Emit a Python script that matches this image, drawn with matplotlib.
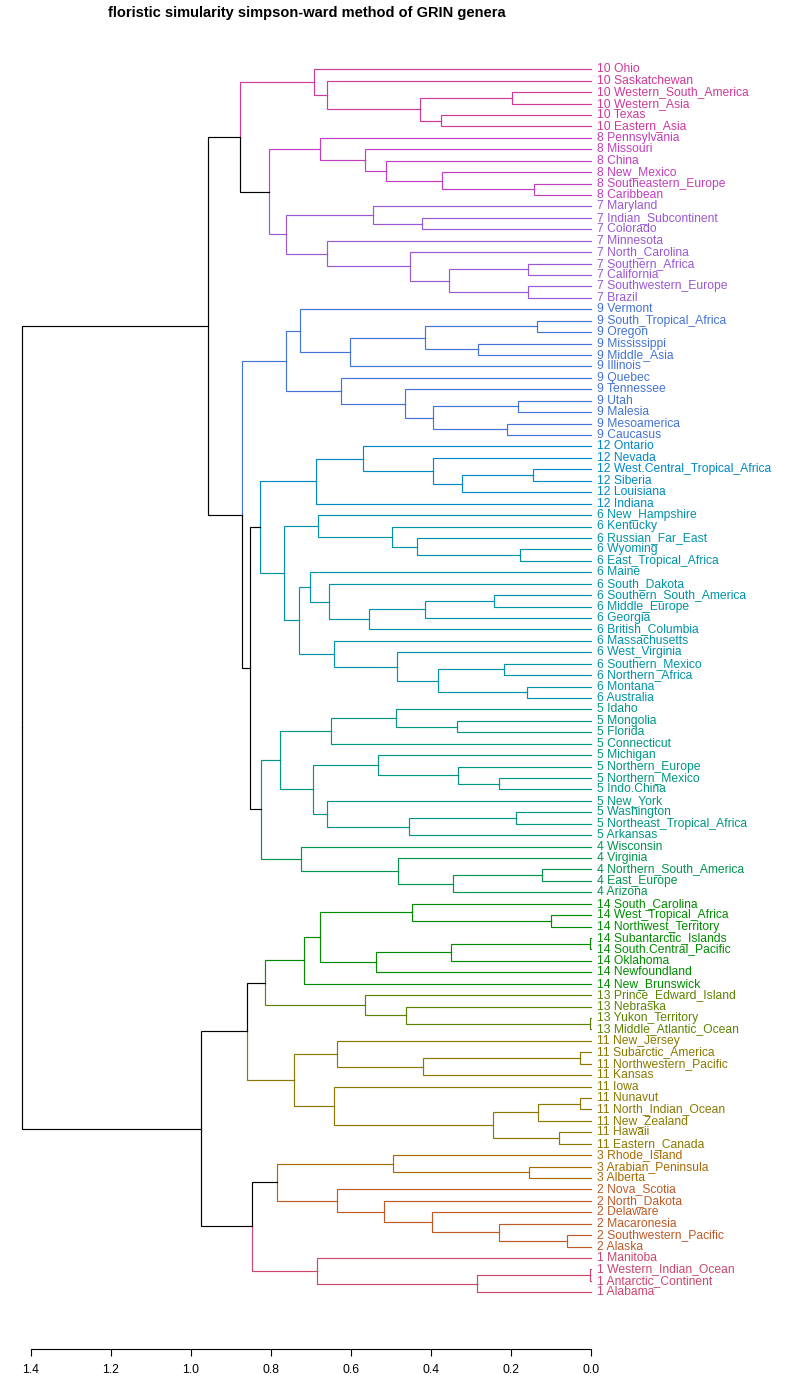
import math
import matplotlib
matplotlib.use('Agg')
import matplotlib.pyplot as plt

plt.rcParams['font.family'] = ['Liberation Sans', 'DejaVu Sans']

# each cluster is a small tree: (merge height, upper branch, lower branch), leaves are names
c10 = (0.692, "Ohio", (0.661, "Saskatchewan", (0.427, (0.197, "Western_South_America", "Western_Asia"),
                                               (0.374, "Texas", "Eastern_Asia"))))
c8 = (0.677, "Pennsylvania", (0.564, "Missouri", (0.512, "China", (0.372, "New_Mexico",
                                                                     (0.142, "Southeastern_Europe", "Caribbean")))))
c7 = (0.762, (0.544, "Maryland", (0.422, "Indian_Subcontinent", "Colorado")),
      (0.659, "Minnesota", (0.452, "North_Carolina", (0.354, (0.157, "Southern_Africa", "California"),
                                                       (0.157, "Southwestern_Europe", "Brazil")))))
c9 = (0.762, (0.727, "Vermont", (0.602, (0.414, (0.134, "South_Tropical_Africa", "Oregon"),
                                          (0.282, "Mississippi", "Middle_Asia")), "Illinois")),
      (0.624, "Quebec", (0.464, "Tennessee", (0.394, (0.182, "Utah", "Malesia"),
                                              (0.209, "Mesoamerica", "Caucasus")))))
c12 = (0.687, (0.569, "Ontario", (0.394, "Nevada", (0.322, (0.144, "West.Central_Tropical_Africa", "Siberia"),
                                                    "Louisiana"))), "Indiana")
c6 = (0.767, (0.682, "New_Hampshire", (0.497, "Kentucky", (0.434, "Russian_Far_East",
                                                           (0.177, "Wyoming", "East_Tropical_Africa")))),
      (0.729, (0.702, "Maine", (0.654, "South_Dakota",
                                (0.554, (0.414, (0.242, "Southern_South_America", "Middle_Europe"), "Georgia"),
                                 "British_Columbia"))),
       (0.642, "Massachusetts", (0.486, "West_Virginia", (0.382, (0.217, "Southern_Mexico", "Northern_Africa"),
                                                          (0.159, "Montana", "Australia"))))))
c5 = (0.777, (0.649, (0.487, "Idaho", (0.334, "Mongolia", "Florida")), "Connecticut"),
      (0.694, (0.532, "Michigan", (0.332, "Northern_Europe", (0.229, "Northern_Mexico", "Indo.China"))),
       (0.659, "New_York", (0.454, (0.187, "Washington", "Northeast_Tropical_Africa"), "Arkansas"))))
c4 = (0.724, "Wisconsin", (0.482, "Virginia", (0.344, (0.122, "Northern_South_America", "East_Europe"), "Arizona")))
c14 = (0.717, (0.677, (0.447, "South_Carolina", (0.099, "West_Tropical_Africa", "Northwest_Territory")),
               (0.537, (0.349, (0.003, "Subantarctic_Islands", "South.Central_Pacific"), "Oklahoma"),
                "Newfoundland")), "New_Brunswick")
c13 = (0.564, "Prince_Edward_Island", (0.462, "Nebraska", (0.003, "Yukon_Territory", "Middle_Atlantic_Ocean")))
c11 = (0.742, (0.634, "New_Jersey", (0.419, (0.0275, "Subarctic_America", "Northwestern_Pacific"), "Kansas")),
       (0.642, "Iowa", (0.244, (0.132, (0.0275, "Nunavut", "North_Indian_Ocean"), "New_Zealand"),
                        (0.079, "Hawaii", "Eastern_Canada"))))
c3 = (0.494, "Rhode_Island", (0.154, "Arabian_Peninsula", "Alberta"))
c2 = (0.634, "Nova_Scotia", (0.517, "North_Dakota", (0.397, "Delaware",
                                                      (0.229, "Macaronesia", (0.059, "Southwestern_Pacific", "Alaska")))))
c1 = (0.684, "Manitoba", (0.284, (0.003, "Western_Indian_Ocean", "Antarctic_Continent"), "Alabama"))

clusters = {10: c10, 8: c8, 7: c7, 9: c9, 12: c12, 6: c6, 5: c5, 4: c4,
            14: c14, 13: c13, 11: c11, 3: c3, 2: c2, 1: c1}

# joins above the cut (integers = cluster numbers)
upper = (0.957, (0.877, 10, (0.804, 8, 7)),
         (0.872, 9, (0.852, (0.827, 12, 6), (0.824, 5, 4))))
lower = (0.976, (0.861, (0.816, 14, 13), 11), (0.847, (0.784, 3, 2), 1))
root_height = 1.4225
tree = (root_height, upper, lower)

# colour order of the groups, bottom to top (rainbow_hcl, c=90, l=50)
group_order = [1, 2, 3, 11, 13, 14, 4, 5, 6, 12, 9, 7, 8, 10]


def hcl_hex(h, c, l):
    xn, yn, zn = 95.047, 100.0, 108.883
    u = c * math.cos(math.radians(h))
    v = c * math.sin(math.radians(h))
    y = yn * ((l + 16) / 116) ** 3
    den = xn + 15 * yn + 3 * zn
    up = u / (13 * l) + 4 * xn / den
    vp = v / (13 * l) + 9 * yn / den
    x = 9 * y * up / (4 * vp)
    z = -x / 3 - 5 * y + 3 * y / vp
    x, y, z = x / 100, y / 100, z / 100
    rgb = [3.240479 * x - 1.537150 * y - 0.498535 * z,
           -0.969256 * x + 1.875992 * y + 0.041556 * z,
           0.055648 * x - 0.204043 * y + 1.057311 * z]
    out = []
    for ch in rgb:
        ch = 12.92 * ch if ch <= 0.0031308 else 1.055 * ch ** (1 / 2.4) - 0.055
        out.append(min(max(ch, 0), 1))
    return '#%02x%02x%02x' % tuple(int(round(ch * 255)) for ch in out)


n = len(group_order)
colors = {g: hcl_hex(360.0 * (n - 1) / n * i / (n - 1), 90, 50) for i, g in enumerate(group_order)}

fig = plt.figure(figsize=(8, 13.76), dpi=100)
# axes from pixel x 0..640, y 40..1330 ; height 0 at x=591, 400 px per unit
ax = fig.add_axes([0, (1376 - 1330) / 1376, 640 / 800, 1290 / 1376])
ax.set_xlim(591 / 400, (591 - 640) / 400)
ax.set_ylim((1330 - 69.3) / 11.43, (40 - 69.3) / 11.43)

lw = 0.85
counter = [0]


def draw(node, col, cid):
    if isinstance(node, int):
        return draw(clusters[node], colors[node], node)
    if isinstance(node, str):
        y = counter[0]
        counter[0] += 1
        ax.text(-0.015, y, "%d %s" % (cid, node), color=col, fontsize=8.75,
                va='center', ha='left', clip_on=False)
        return y, 0.0, col
    h, a, b = node
    ya, ha, ca = draw(a, col, cid)
    yb, hb, cb = draw(b, col, cid)
    ym = (ya + yb) / 2
    ax.plot([ha, h, h], [ya, ya, ym], color=ca, lw=lw, solid_joinstyle='miter')
    ax.plot([hb, h, h], [yb, yb, ym], color=cb, lw=lw, solid_joinstyle='miter')
    return ym, h, col


draw(tree, 'black', None)

for s in ['top', 'left', 'right']:
    ax.spines[s].set_visible(False)
ax.spines['bottom'].set_bounds(0, 1.4)
ax.spines['bottom'].set_position(('outward', 19 * 0.72))
ax.spines['bottom'].set_linewidth(0.8)
ticks = [1.4, 1.2, 1.0, 0.8, 0.6, 0.4, 0.2, 0.0]
ax.set_xticks(ticks)
ax.set_xticklabels(['%.1f' % t for t in ticks], fontsize=8.75)
ax.tick_params(axis='x', direction='out', length=5, width=0.8, pad=6)
ax.set_yticks([])

fig.text(307 / 800, 1 - 13 / 1376, "floristic simularity simpson-ward method of GRIN genera",
         ha='center', va='center', fontsize=10.5, fontweight='bold')

fig.savefig('out.png', dpi=100)
